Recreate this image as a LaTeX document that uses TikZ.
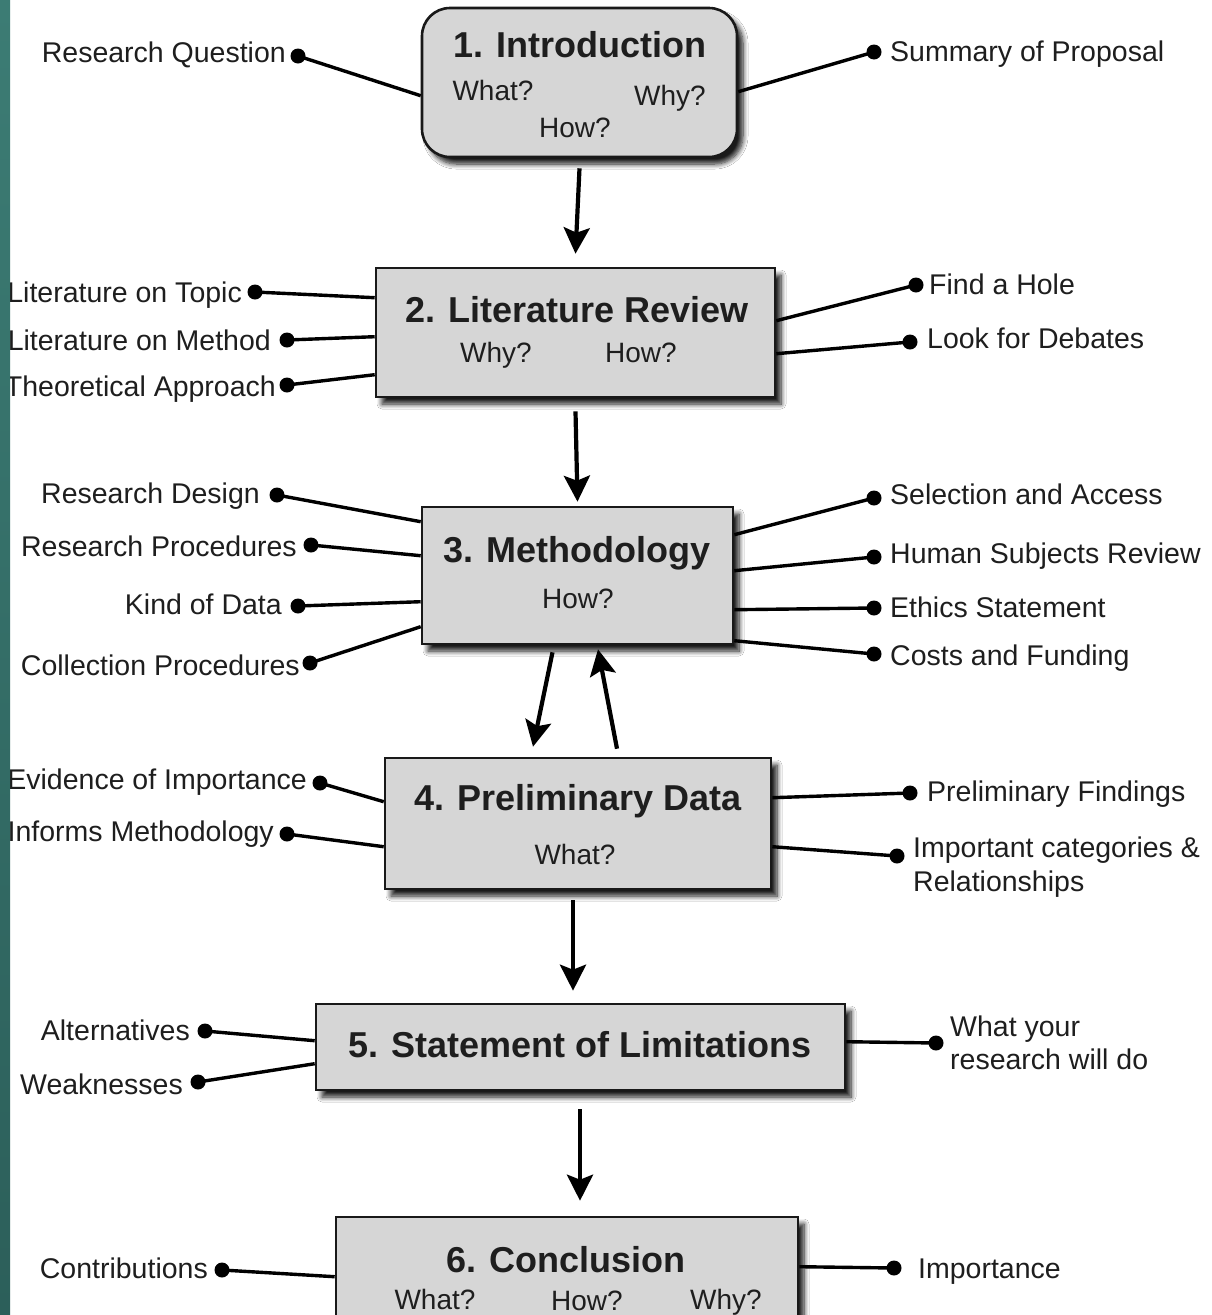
\documentclass[tikz,border=0pt]{standalone}
\usepackage{fontspec}
\setmainfont{Liberation Sans}
\usetikzlibrary{arrows.meta,shadows.blur,calc}
\definecolor{boxfill}{HTML}{D6D6D6}
\definecolor{txt}{HTML}{1E1E1E}
\definecolor{tealA}{HTML}{3C7C74}
\definecolor{tealB}{HTML}{2C5F5A}
\tikzset{
  box/.style={draw=black!90, line width=2.6pt, fill=boxfill, inner sep=0pt,
    blur shadow={shadow xshift=6pt, shadow yshift=-7pt, shadow blur radius=5pt, shadow blur steps=8, shadow opacity=90}},
  ttl/.style={font=\fontsize{36}{42}\selectfont\bfseries, text=txt, inner sep=0pt, anchor=base},
  qq/.style={font=\fontsize{28}{32}\selectfont, text=txt, inner sep=0pt, anchor=base},
  lblL/.style={font=\fontsize{28.5}{34}\selectfont, text=txt, inner sep=0pt, anchor=base east},
  lblR/.style={font=\fontsize{28.5}{34}\selectfont, text=txt, inner sep=0pt, anchor=base west},
  dotn/.style={circle, fill=black, inner sep=0pt, minimum size=15pt},
  conn/.style={line width=3.4pt, black},
  arr/.style={line width=4.2pt, black, -{Stealth[length=26pt, width=26pt, inset=5pt]}}
}
\begin{document}
\begin{tikzpicture}[x=1pt, y=-1pt]
\useasboundingbox (0,0) rectangle (1212,1315);
\fill[white] (0,0) rectangle (1212,1315);

% ---------- boxes ----------
\node[box, rounded corners=28pt, minimum width=315pt, minimum height=149pt] (b1) at (579.5,82.5) {};
\node[box, minimum width=399pt, minimum height=129pt] (b2) at (575.5,332.5) {};
\node[box, minimum width=311pt, minimum height=137pt] (b3) at (577.5,575.5) {};
\node[box, minimum width=386pt, minimum height=131pt] (b4) at (578,823.5) {};
\node[box, minimum width=529pt, minimum height=86pt] (b5) at (580.5,1047) {};
\node[box, minimum width=462pt, minimum height=128pt] (b6) at (567,1281) {};

% ---------- box texts ----------
\node[ttl] (t1) at (580,57) {1. Introduction};
\node[qq] (q1a) at (493,100) {What?};
\node[qq] (q1b) at (670,105) {Why?};
\node[qq] (q1c) at (575,137) {How?};

\node[ttl] (t2) at (577,322) {2. Literature Review};
\node[qq] (q2a) at (496,362) {Why?};
\node[qq] (q2b) at (641,362) {How?};

\node[ttl] (t3) at (577,562) {3. Methodology};
\node[qq] (q3a) at (578,608) {How?};

\node[ttl] (t4) at (578,810) {4. Preliminary Data};
\node[qq] (q4a) at (575,864) {What?};

\node[ttl] (t5) at (580,1057) {5. Statement of Limitations};

\node[ttl] (t6) at (566,1272) {6. Conclusion};
\node[qq] (q6a) at (435,1309) {What?};
\node[qq] (q6b) at (587,1310) {How?};
\node[qq] (q6c) at (726,1309) {Why?};

% ---------- arrows ----------
\draw[arr] ([yshift=-10pt]b1.south) -- ([yshift=13pt]b2.north);
\draw[arr] ([yshift=-13pt]b2.south) -- ([yshift=4pt]b3.north);
\draw[arr] ([xshift=-25pt,yshift=-7pt]b3.south) -- ([xshift=-45pt,yshift=10pt]b4.north);
\draw[arr] ([xshift=39pt,yshift=8pt]b4.north) -- ([xshift=20.5pt,yshift=-4pt]b3.south);
\draw[arr] ([xshift=-5pt,yshift=-10pt]b4.south) -- ([xshift=-7.5pt,yshift=12pt]b5.north);
\draw[arr] ([xshift=-0.5pt,yshift=-18pt]b5.south) -- ([xshift=13pt,yshift=15pt]b6.north);

% ---------- left labels ----------
\node[lblL] (lRQ) at (286,62) {Research Question};
\node[dotn] (dRQ) at (298,56) {};
\draw[conn] (dRQ.center) -- ([yshift=-89pt]b1.north west);

\node[lblL] (lLT) at (242,302) {Literature on Topic};
\node[dotn] (dLT) at (255,292) {};
\draw[conn] (dLT.center) -- ([yshift=-31pt]b2.north west);

\node[lblL] (lLM) at (271,350) {Literature on Method};
\node[dotn] (dLM) at (287,340) {};
\draw[conn] (dLM.center) -- ([yshift=-70pt]b2.north west);

\node[lblL] (lTA) at (276,396) {Theoretical Approach};
\node[dotn] (dTA) at (287,385) {};
\draw[conn] (dTA.center) -- ([yshift=-108pt]b2.north west);

\node[lblL] (lRD) at (260,503) {Research Design};
\node[dotn] (dRD) at (277,495) {};
\draw[conn] (dRD.center) -- ([yshift=-16pt]b3.north west);

\node[lblL] (lRP) at (297,556) {Research Procedures};
\node[dotn] (dRP) at (311,545) {};
\draw[conn] (dRP.center) -- ([yshift=-50pt]b3.north west);

\node[lblL] (lKD) at (282,614) {Kind of Data};
\node[dotn] (dKD) at (298,606) {};
\draw[conn] (dKD.center) -- ([yshift=-96pt]b3.north west);

\node[lblL] (lCP) at (300,675) {Collection Procedures};
\node[dotn] (dCP) at (310,663) {};
\draw[conn] (dCP.center) -- ([yshift=-121pt]b3.north west);

\node[lblL] (lEI) at (307,789) {Evidence of Importance};
\node[dotn] (dEI) at (320,783) {};
\draw[conn] (dEI.center) -- ([yshift=-45pt]b4.north west);

\node[lblL] (lIM) at (274,841) {Informs Methodology};
\node[dotn] (dIM) at (287,834) {};
\draw[conn] (dIM.center) -- ([yshift=-90pt]b4.north west);

\node[lblL] (lAL) at (190,1040) {Alternatives};
\node[dotn] (dAL) at (205,1031) {};
\draw[conn] (dAL.center) -- ([yshift=-38pt]b5.north west);

\node[lblL] (lWK) at (183,1094) {Weaknesses};
\node[dotn] (dWK) at (198,1082) {};
\draw[conn] (dWK.center) -- ([yshift=-61pt]b5.north west);

\node[lblL] (lCO) at (208,1278) {Contributions};
\node[dotn] (dCO) at (222,1270) {};
\draw[conn] (dCO.center) -- ([yshift=-61pt]b6.north west);

% ---------- right labels ----------
\node[lblR] (lSP) at (890,61) {Summary of Proposal};
\node[dotn] (dSP) at (874,52) {};
\draw[conn] ([yshift=-85pt]b1.north east) -- (dSP.center);

\node[lblR] (lFH) at (929,294) {Find a Hole};
\node[dotn] (dFH) at (916,285) {};
\draw[conn] ([yshift=-54pt]b2.north east) -- (dFH.center);

\node[lblR] (lLD) at (927,348) {Look for Debates};
\node[dotn] (dLD) at (910,342) {};
\draw[conn] ([yshift=-87pt]b2.north east) -- (dLD.center);

\node[lblR] (lSA) at (890,504) {Selection and Access};
\node[dotn] (dSA) at (874,498) {};
\draw[conn] ([yshift=-29pt]b3.north east) -- (dSA.center);

\node[lblR] (lHS) at (890,563) {Human Subjects Review};
\node[dotn] (dHS) at (874,557) {};
\draw[conn] ([yshift=-65pt]b3.north east) -- (dHS.center);

\node[lblR] (lES) at (890,617) {Ethics Statement};
\node[dotn] (dES) at (874,608) {};
\draw[conn] ([yshift=-104pt]b3.north east) -- (dES.center);

\node[lblR] (lCF) at (890,665) {Costs and Funding};
\node[dotn] (dCF) at (874,654) {};
\draw[conn] ([yshift=-135pt]b3.north east) -- (dCF.center);

\node[lblR] (lPF) at (927,801) {Preliminary Findings};
\node[dotn] (dPF) at (910,793) {};
\draw[conn] ([yshift=-41pt]b4.north east) -- (dPF.center);

\node[lblR] (lIC1) at (913,857) {Important categories \&};
\node[lblR] (lIC2) at (913,891) {Relationships};
\node[dotn] (dIC) at (897,856) {};
\draw[conn] ([yshift=-90pt]b4.north east) -- (dIC.center);

\node[lblR] (lWY1) at (950,1036) {What your};
\node[lblR] (lWY2) at (950,1069) {research will do};
\node[dotn] (dWY) at (936,1043) {};
\draw[conn] ([yshift=-39pt]b5.north east) -- (dWY.center);

\node[lblR] (lIP) at (918,1278) {Importance};
\node[dotn] (dIP) at (894,1268) {};
\draw[conn] ([yshift=-51pt]b6.north east) -- (dIP.center);

% ---------- teal strip on the left edge ----------
\shade[top color=tealA, bottom color=tealB] (0,0) rectangle (10,1315);
\end{tikzpicture}
\end{document}
